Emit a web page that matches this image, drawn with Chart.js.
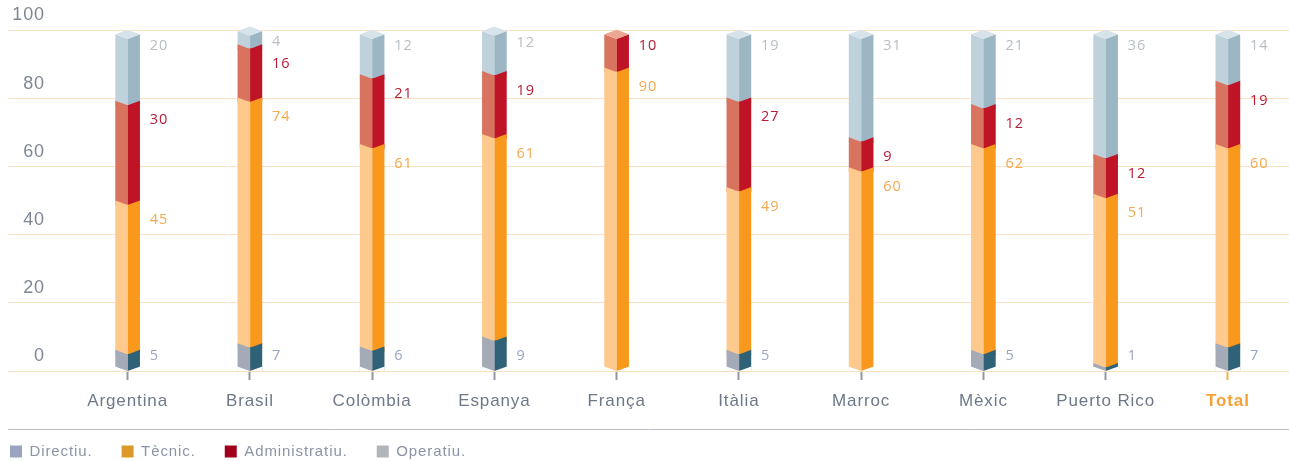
<!DOCTYPE html>
<html><head><meta charset="utf-8">
<script src="https://cdn.jsdelivr.net/npm/chart.js@4.4.1/dist/chart.umd.min.js"></script>
<style>html,body{margin:0;padding:0;background:#fff;}#wrap{width:1289px;height:461px;position:relative;}</style>
</head><body><div id="wrap"><canvas id="c"></canvas></div>
<script>
const categories = ['Argentina','Brasil','Colòmbia','Espanya','França','Itàlia','Marroc','Mèxic','Puerto Rico','Total'];
const directiu      = [5, 7, 6, 9, 0, 5, 0, 5, 1, 7];
const tecnic        = [45,74,61,61,90,49,60,62,51,60];
const administratiu = [30,16,21,19,10,27, 9,12,12,19];
const operatiu      = [20, 4,12,12, 0,19,31,21,36,14];
const yTicks = [0,20,40,60,80,100];
const seriesNames = ['Directiu.','Tècnic.','Administratiu.','Operatiu.'];

const values = [directiu, tecnic, administratiu, operatiu];
const faceLeft  = ['#a4abb6','#fec98c','#d8735f','#bfd2dc'];
const faceRight = ['#2f6276','#f8991e','#bf1326','#9db6c4'];
const capColor  = ['#c9ced6','#ffdcb0','#eaa893','#d7e3ea'];
const labelColor= ['#9aa5c5','#f5a84c','#bb1a33','#b8bec4'];
const legendColor=['#9aa3bf','#dc9a2a','#a2001d','#b1b6bb'];
const gridColor = '#fbe0c2';
const D = 4.6;

const datasets = [];
values.forEach((vals, s) => {
  datasets.push({label: seriesNames[s], data: vals.map(v => v || null), stack: 'L', yAxisID: 'yb',
    backgroundColor: faceLeft[s], borderWidth: 0, barThickness: 12});
  datasets.push({label: seriesNames[s], data: vals.map(v => v || null), stack: 'R', yAxisID: 'yb',
    backgroundColor: faceRight[s], borderWidth: 0, barThickness: 12});
});

function poly(ctx, pts, color) {
  ctx.beginPath();
  ctx.moveTo(pts[0][0], pts[0][1]);
  for (let k = 1; k < pts.length; k++) ctx.lineTo(pts[k][0], pts[k][1]);
  ctx.closePath();
  ctx.fillStyle = color;
  ctx.fill();
}

function segmentsFor(chart, i) {
  const segs = [];
  for (let s = 0; s < 4; s++) {
    if (!values[s][i]) continue;
    const eL = chart.getDatasetMeta(2*s).data[i];
    const eR = chart.getDatasetMeta(2*s+1).data[i];
    segs.push({s, top: eL.y, base: eL.base,
      left: eL.x - eL.width/2, center: eL.x + eL.width/2, right: eR.x + eR.width/2});
  }
  return segs;
}

const spacingPlugin = {
  id: 'spacing',
  beforeUpdate(chart) { chart.ctx.letterSpacing = '0.9px'; },
  beforeDraw(chart) { chart.ctx.letterSpacing = '0.9px'; }
};

const prismPlugin = {
  id: 'prism',
  afterDatasetsDraw(chart) {
    const ctx = chart.ctx;
    const y0 = chart.scales.yb.getPixelForValue(0);
    ctx.save();
    for (let i = 0; i < categories.length; i++) {
      const segs = segmentsFor(chart, i);
      if (!segs.length) continue;
      const {left, center, right} = segs[0];
      const topSeg = segs[segs.length-1];
      const pt = topSeg.top;
      for (let k = segs.length-1; k >= 0; k--) {
        const g = segs[k], p = g.top;
        poly(ctx, [[left-0.3,p-D],[center,p],[center,p+0.4],[left-0.3,p+0.4]], faceLeft[g.s]);
        poly(ctx, [[right+0.3,p-D],[center,p],[center,p+0.4],[right+0.3,p+0.4]], faceRight[g.s]);
      }
      poly(ctx, [[left-0.3,pt-D],[center,pt-2*D],[right+0.3,pt-D],[center,pt]], capColor[topSeg.s]);
      poly(ctx, [[left-0.6,y0-D],[center,y0],[right+0.6,y0-D],[right+0.6,y0+0.5],[left-0.6,y0+0.5]], '#ffffff');
      ctx.fillStyle = gridColor;
      ctx.fillRect(left-1, Math.round(y0), right-left+2, 1);
    }
    // value labels
    ctx.font = '14.5px "Open Sans"';
    ctx.letterSpacing = '1.1px';
    ctx.textBaseline = 'middle';
    ctx.textAlign = 'left';
    for (let i = 0; i < categories.length; i++) {
      const segs = segmentsFor(chart, i);
      segs.forEach((g, k) => {
        const h = g.base - g.top;
        let y;
        if (k === segs.length-1) y = g.top + Math.min(h/2, 7);
        else y = g.top + Math.min(h/2, 15);
        if (k === 0 && g.s === 0) y = Math.min(y, y0 - 15);
        ctx.fillStyle = labelColor[g.s];
        ctx.fillText(String(values[g.s][i]), g.right + 10, y);
      });
    }
    ctx.restore();
  },
  afterDraw(chart) {
    const ctx = chart.ctx;
    const lg = chart.legend;
    const y = Math.round(lg.legendHitBoxes[0].top - 15) + 0.5;
    ctx.save();
    ctx.strokeStyle = '#b9bdca';
    ctx.lineWidth = 1;
    ctx.beginPath();
    ctx.moveTo(8, y); ctx.lineTo(chart.width, y);
    ctx.stroke();
    ctx.restore();
  }
};

const isTotal = ctx => ctx.index === categories.length-1;
const xLabelColor = ctx => isTotal(ctx) ? '#f4a236' : '#6e7888';
const xTickColor = ctx => isTotal(ctx) ? '#f6ad52' : '#8e98a6';

new Chart(document.getElementById('c'), {
  type: 'bar',
  data: {labels: categories, datasets},
  plugins: [spacingPlugin, prismPlugin],
  options: {
    responsive: true,
    maintainAspectRatio: false,
    animation: false,
    devicePixelRatio: 1,
    layout: {padding: {top: 30, left: -19, right: -7.4, bottom: -8}},
    plugins: {
      tooltip: {enabled: false},
      legend: {
        position: 'bottom', align: 'start',
        labels: {
          boxWidth: 12, boxHeight: 12, padding: 29, color: '#8b94a6',
          font: {family: '"Liberation Sans", Arial, sans-serif', size: 15},
          generateLabels: () => seriesNames.map((t, s) => ({
            text: t, fillStyle: legendColor[s], strokeStyle: legendColor[s],
            lineWidth: 0, hidden: false, datasetIndex: 2*s, fontColor: '#8b94a6'}))
        }
      }
    },
    scales: {
      x: {
        offset: true,
        border: {display: false},
        grid: {offset: false, drawOnChartArea: false, drawTicks: true, tickLength: 9, tickWidth: 2,
          tickColor: xTickColor},
        ticks: {
          autoSkip: false, maxRotation: 0, padding: 11,
          color: xLabelColor,
          font: ctx => ({family: '"Liberation Sans", Arial, sans-serif', size: 17,
            weight: isTotal(ctx) ? 'bold' : 'normal'})
        },
        afterFit: sc => { sc.height = 44; }
      },
      y: {
        position: 'left',
        min: yTicks[0], max: yTicks[yTicks.length-1],
        border: {display: false},
        grid: {color: gridColor, lineWidth: 1, drawTicks: true, tickLength: 58.5, tickColor: gridColor},
        ticks: {
          stepSize: yTicks[1]-yTicks[0], padding: -37, labelOffset: -14.5,
          color: '#7f8795', font: {family: '"Liberation Sans", Arial, sans-serif', size: 18}
        },
        afterFit: sc => { sc.width = 85.5; }
      },
      yb: {
        display: false, stacked: true, min: 0, max: 102.7
      }
    }
  }
});
</script>
</body></html>
